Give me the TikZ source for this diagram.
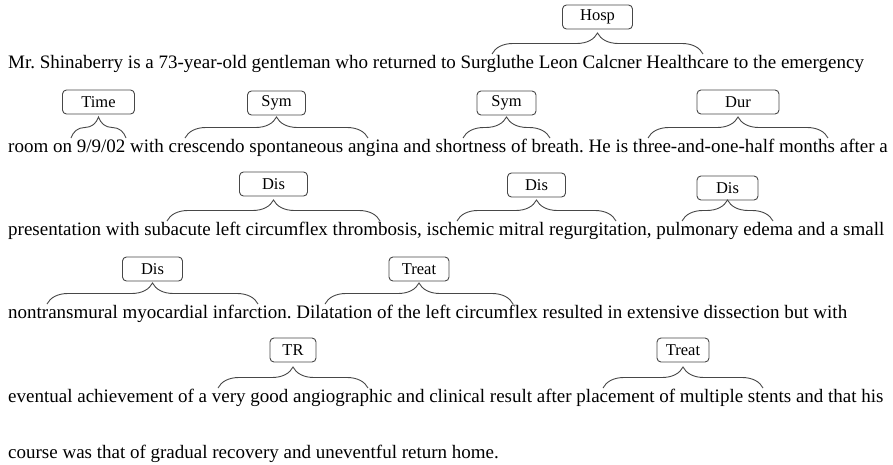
\documentclass[tikz,border=0pt]{standalone}
\usepackage{fontspec}
\setmainfont{Liberation Serif}
\usetikzlibrary{decorations.pathreplacing,positioning}
\definecolor{boxgray}{HTML}{474747}
\frenchspacing
\begin{document}
\begin{tikzpicture}[x=1pt,y=-1pt,
	txt/.style={anchor=base west,inner sep=0pt,font=\fontsize{19}{23}\selectfont},
	lab/.style={draw=boxgray,rounded corners=4pt,line width=0.9pt,minimum height=24pt,inner sep=0pt,font=\fontsize{16.5}{19}\selectfont},
	brc/.style={draw=boxgray,line width=0.9pt,decorate,decoration={brace,amplitude=21pt}}]
	\useasboundingbox (0,0) rectangle (893,464);
	% text lines
	\node[txt] at (8,68) (l1) {Mr. Shinaberry is a 73-year-old gentleman who returned to Surgluthe Leon Calcner Healthcare to the emergency};
	\node[txt] at (8,152) (l2) {room on 9/9/02 with crescendo spontaneous angina and shortness of breath. He is three-and-one-half months after a};
	\node[txt] at (8,235) (l3) {presentation with subacute left circumflex thrombosis, ischemic mitral regurgitation, pulmonary edema and a small};
	\node[txt] at (8,318) (l4) {nontransmural myocardial infarction. Dilatation of the left circumflex resulted in extensive dissection but with};
	\node[txt] at (8,402) (l5) {eventual achievement of a very good angiographic and clinical result after placement of multiple stents and that his};
	\node[txt] at (8,458) (l6) {course was that of gradual recovery and uneventful return home.};
	% brace ends
	\coordinate (hospa) at (492,54);  \coordinate (hospb) at (703,54);
	\coordinate (timea) at (71,138);  \coordinate (timeb) at (126,138);
	\coordinate (syma) at (185,138);  \coordinate (symb) at (368,138);
	\coordinate (symc) at (463,138);  \coordinate (symd) at (550,138);
	\coordinate (dura) at (648,138);  \coordinate (durb) at (828,138);
	\coordinate (disa) at (167,221);  \coordinate (disb) at (380,221);
	\coordinate (disc) at (457,221);  \coordinate (disd) at (616,221);
	\coordinate (dise) at (682,221);  \coordinate (disf) at (773,221);
	\coordinate (disg) at (47,304);   \coordinate (dish) at (258,304);
	\coordinate (treata) at (325,304); \coordinate (treatb) at (513,304);
	\coordinate (tra) at (218,388);   \coordinate (trb) at (368,388);
	\coordinate (treatc) at (603,388); \coordinate (treatd) at (763,388);
	% labels
	\node[lab,minimum width=70pt] at (597.5,17) (hosp) {Hosp};
	\node[lab,minimum width=72pt] at (98.5,102) (time) {Time};
	\node[lab,minimum width=58pt] at (276.5,103) (sym1) {Sym};
	\node[lab,minimum width=59pt] at (506.5,103) (sym2) {Sym};
	\node[lab,minimum width=82pt] at (738,102) (dur) {Dur};
	\node[lab,minimum width=68pt] at (273.5,184) (dis1) {Dis};
	\node[lab,minimum width=58pt] at (536.5,185) (dis2) {Dis};
	\node[lab,minimum width=61pt] at (727.5,188) (dis3) {Dis};
	\node[lab,minimum width=60pt] at (152.5,269) (dis4) {Dis};
	\node[lab,minimum width=60pt] at (419,269) (treat1) {Treat};
	\node[lab,minimum width=46pt] at (293,350) (tr) {TR};
	\node[lab,minimum width=52pt] at (683,350) (treat2) {Treat};
	% braces
	\path (hospa) edge[brc] (hospb)
	(timea) edge[brc] (timeb)
	(syma) edge[brc] (symb)
	(symc) edge[brc] (symd)
	(dura) edge[brc] (durb)
	(disa) edge[brc] (disb)
	(disc) edge[brc] (disd)
	(dise) edge[brc] (disf)
	(disg) edge[brc] (dish)
	(treata) edge[brc] (treatb)
	(tra) edge[brc] (trb)
	(treatc) edge[brc] (treatd);
\end{tikzpicture}
\end{document}
